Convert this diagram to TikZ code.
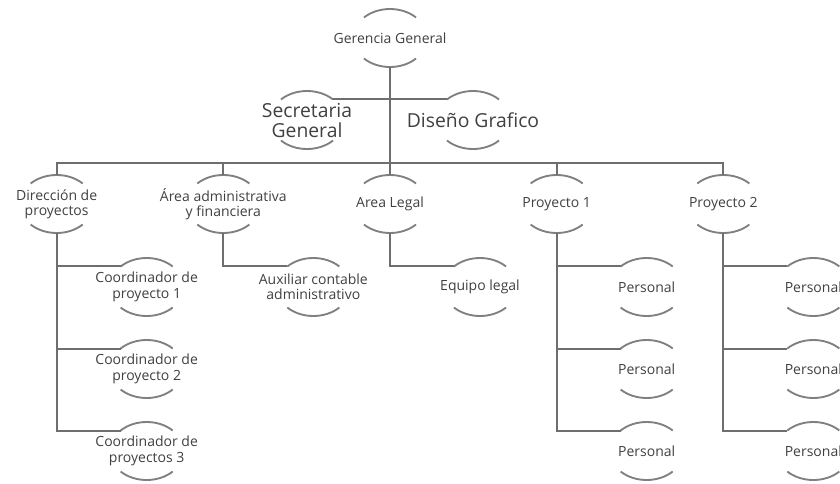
\documentclass[tikz,border=0pt]{standalone}
\usepackage{fontspec}
\setmainfont{Open Sans}
\usepackage{xcolor}
\usepackage{tikz}
\usetikzlibrary{calc}
\usetikzlibrary{positioning}

\tikzset{
    unit/.style={align=center, inner sep=0pt, text=black!75,
        font=\fontsize{10.5}{11.5}\selectfont},
    big/.style={font=\fontsize{14.5}{15}\selectfont},
    arco/.style={draw=black!50, line width=1.4pt},
    linea/.style={draw=black!57, line width=1.5pt},
}

\begin{document}
\begin{tikzpicture}[on grid]
            \useasboundingbox (0,0) rectangle (630pt,-362.25pt);

            \node[unit] (ger) at (292.5pt,-28.5pt) {Gerencia General};
            \node[unit, big, below left=61.5pt and 62.25pt of ger] (sec) {Secretaria\\General};
            \node[unit, big, below right=61.5pt and 62.25pt of ger] (dis) {Diseño Grafico};

            \node[unit, below=124.5pt of ger] (leg) {Area Legal};
            \node[unit, left=125pt of leg] (adm) {Área administrativa\\y financiera};
            \node[unit, left=125pt of adm] (dir) {Dirección de\\proyectos};
            \node[unit, right=125pt of leg] (pr1) {Proyecto 1};
            \node[unit, right=125pt of pr1] (pr2) {Proyecto 2};

            \node[unit, below right=62.25pt and 67.5pt of dir] (co1) {Coordinador de\\proyecto 1};
            \node[unit, below=61.5pt of co1] (co2) {Coordinador de\\proyecto 2};
            \node[unit, below=61.5pt of co2] (co3) {Coordinador de\\proyectos 3};

            \node[unit, below right=62.25pt and 67.5pt of adm] (aux) {Auxiliar contable\\administrativo};
            \node[unit, below right=62.25pt and 67.5pt of leg] (equ) {Equipo legal};

            \node[unit, below right=62.25pt and 67.5pt of pr1] (pe1) {Personal};
            \node[unit, below=61.5pt of pe1] (pe2) {Personal};
            \node[unit, below=61.5pt of pe2] (pe3) {Personal};
            \node[unit, below right=62.25pt and 67.5pt of pr2] (pf1) {Personal};
            \node[unit, below=61.5pt of pf1] (pf2) {Personal};
            \node[unit, below=61.5pt of pf2] (pf3) {Personal};

            % arcs above and below each text
            \foreach \n in {ger,sec,dis,dir,adm,leg,pr1,pr2,co1,co2,co3,aux,equ,pe1,pe2,pe3,pf1,pf2,pf3}{
                \draw[arco] (\n.center) ++(45:27.6pt and 21.75pt)
                    arc[start angle=45, end angle=135, x radius=27.6pt, y radius=21.75pt];
                \draw[arco] (\n.center) ++(-135:27.6pt and 21.75pt)
                    arc[start angle=-135, end angle=-45, x radius=27.6pt, y radius=21.75pt];
                \coordinate (\n-n) at ($(\n.center)+(0,21.75pt)$);
                \coordinate (\n-s) at ($(\n.center)+(0,-21.75pt)$);
                \coordinate (\n-l) at ($(\n.center)+(135:27.6pt and 21.75pt)$);
                \coordinate (\n-r) at ($(\n.center)+(45:27.6pt and 21.75pt)$);
            }
            \coordinate[above=9pt of leg-n] (bus);

            \draw[linea] (ger-s) -- (leg-n);
            \draw[linea] (sec-r) -- (dis-l);
            \draw[linea] (dir-n) |- (bus) -| (pr2-n);
            \draw[linea] (adm-n) |- (bus);
            \draw[linea] (pr1-n) |- (bus);

            \draw[linea] (dir-s) |- (co1-l);
            \draw[linea] (dir-s) |- (co2-l);
            \draw[linea] (dir-s) |- (co3-l);
            \draw[linea] (adm-s) |- (aux-l);
            \draw[linea] (leg-s) |- (equ-l);
            \draw[linea] (pr1-s) |- (pe1-l);
            \draw[linea] (pr1-s) |- (pe2-l);
            \draw[linea] (pr1-s) |- (pe3-l);
            \draw[linea] (pr2-s) |- (pf1-l);
            \draw[linea] (pr2-s) |- (pf2-l);
            \draw[linea] (pr2-s) |- (pf3-l);
\end{tikzpicture}
\end{document}
